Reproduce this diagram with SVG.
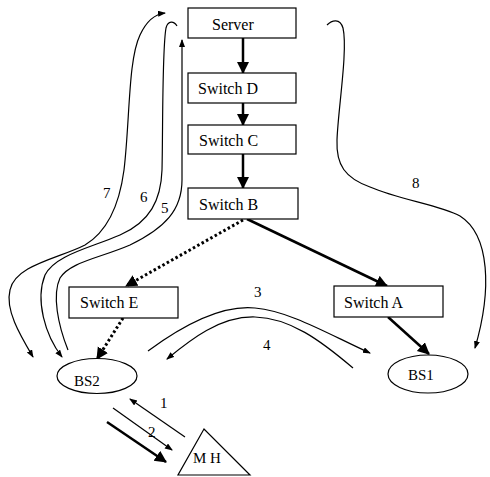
<svg xmlns="http://www.w3.org/2000/svg" width="490" height="477" viewBox="0 0 490 477">
<style>
.box{fill:#fff;stroke:#000;stroke-width:1.2}
.t{font-family:"Liberation Serif","Times New Roman",serif;font-size:16px;fill:#000}
.n{font-family:"Liberation Serif","Times New Roman",serif;font-size:15px;fill:#000}
.thin{fill:none;stroke:#000;stroke-width:1.2}
.bold{fill:none;stroke:#000;stroke-width:2.5}
.dot{fill:none;stroke:#000;stroke-width:3;stroke-dasharray:2.5 2.5}
</style>
<defs>
<marker id="big" markerUnits="userSpaceOnUse" markerWidth="14" markerHeight="14" refX="11" refY="6" orient="auto"><path d="M0,0 L12,6 L0,12 z" fill="#000"/></marker>
<marker id="sm" markerUnits="userSpaceOnUse" markerWidth="10" markerHeight="8" refX="7" refY="3" orient="auto-start-reverse"><path d="M0,0 L8,3 L0,6 z" fill="#000"/></marker>
</defs>
<rect width="490" height="477" fill="#fff"/>
<g id="connectors">
<line class="bold" x1="243" y1="38" x2="243" y2="73" marker-end="url(#big)"/>
<line class="bold" x1="243" y1="103" x2="243" y2="125" marker-end="url(#big)"/>
<line class="bold" x1="243" y1="154" x2="243" y2="188" marker-end="url(#big)"/>
<line class="dot" x1="243" y1="220" x2="126" y2="286" marker-end="url(#big)"/>
<line class="bold" x1="247" y1="219" x2="387" y2="286" stroke-width="2" marker-end="url(#big)"/>
<line class="dot" x1="123" y1="318" x2="97" y2="359" marker-end="url(#big)"/>
<line class="bold" x1="388" y1="317" x2="429" y2="354" stroke-width="3.5" marker-end="url(#big)"/>
<line class="bold" x1="107" y1="422" x2="166" y2="462" stroke-width="3.5" marker-end="url(#big)"/>
<line class="thin" x1="185" y1="437" x2="130" y2="399" marker-end="url(#sm)"/>
<line class="thin" x1="113" y1="408" x2="172" y2="450" marker-end="url(#sm)"/>
<path class="thin" d="M148,351 C190,320 225,305 255,308 C290,311 330,335 370,353" marker-end="url(#sm)"/>
<path class="thin" d="M353,368 C320,340 290,318 255,317 C220,316 190,340 167,359" marker-end="url(#sm)"/>
<path class="thin" d="M165,13 C155,14 147,20 140,35 C128,60 130,120 124,170 C120,200 110,230 85,245 C60,258 15,265 10,290 C5,310 20,335 33,357" marker-start="url(#sm)" marker-end="url(#sm)"/>
<path class="thin" d="M177,26 C174,21 168,20 166,28 C162,50 163,130 162,170 C161,200 150,222 120,235 C90,248 55,255 45,275 C35,300 45,335 62,357" marker-end="url(#sm)"/>
<path class="thin" d="M68,350 C58,325 52,295 60,278 C70,262 100,258 130,245 C165,228 182,210 182,180 L182,40" marker-end="url(#sm)"/>
<path class="thin" d="M327,25 C332,20 340,18 343,28 C348,50 338,110 337,140 C336,165 345,178 370,187 C400,200 440,205 460,216 C490,235 492,290 475,348" marker-end="url(#sm)"/>
</g>
<g id="server"><rect class="box" x="188" y="8" width="108" height="30"/><text class="t" x="212" y="30">Server</text></g>
<g id="switchD"><rect class="box" x="188" y="73" width="108" height="30"/><text class="t" x="198" y="94">Switch D</text></g>
<g id="switchC"><rect class="box" x="188" y="125" width="108" height="29"/><text class="t" x="199" y="146">Switch C</text></g>
<g id="switchB"><rect class="box" x="188" y="188" width="110" height="31"/><text class="t" x="199" y="210">Switch B</text></g>
<g id="switchE"><rect class="box" x="69" y="287" width="109" height="31"/><text class="t" x="80" y="308">Switch E</text></g>
<g id="switchA"><rect class="box" x="334" y="286" width="109" height="31"/><text class="t" x="344" y="308">Switch A</text></g>
<g id="bs2"><ellipse class="box" cx="97" cy="376" rx="40" ry="17.5"/><text class="n" x="74" y="386">BS2</text></g>
<g id="bs1"><ellipse class="box" cx="428" cy="374" rx="40" ry="19"/><text class="n" x="408" y="380">BS1</text></g>
<g id="mh"><polygon class="box" points="204,429 178,475 250,475"/><text class="n" x="193" y="463">M H</text></g>
<g id="labels">
<text class="n" x="103" y="198">7</text>
<text class="n" x="140" y="202">6</text>
<text class="n" x="161" y="213">5</text>
<text class="n" x="412" y="188">8</text>
<text class="n" x="254" y="297">3</text>
<text class="n" x="263" y="350">4</text>
<text class="n" x="160" y="408">1</text>
<text class="n" x="148" y="437">2</text>
</g>
</svg>
